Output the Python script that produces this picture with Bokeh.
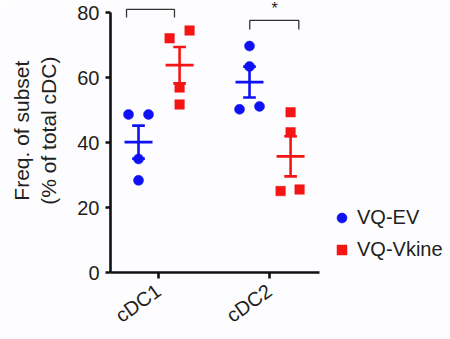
import numpy as np
from bokeh.plotting import figure
from bokeh.models import FixedTicker, Legend, LegendItem, ColumnDataSource, Range1d
from bokeh.core.properties import value
from bokeh.embed import file_html
from bokeh.resources import INLINE

# ---- data ----
categories = ["cDC1", "cDC2"]
cat_pos = [1, 2]
ev_values = [[48.7, 48.7, 35.0, 28.4], [69.8, 63.5, 50.3, 51.2]]   # VQ-EV
vk_values = [[72.2, 74.6, 57.0, 51.8], [49.4, 43.2, 25.1, 25.6]]   # VQ-Vkine
ev_jitter = [[-1, 1, 0, 0], [0, 0, -1, 1]]
vk_jitter = [[-1, 1, 0, 0], [0, 0, -1, 0.9]]
y_ticks = [0, 20, 40, 60, 80]
bracket_x0 = [0.712, 1.822]
bracket_x1 = [1.144, 2.264]
bracket_top = [81.1, 77.7]
bracket_leg = [78.6, 74.9]
sig_labels = ["", "*"]
sig_x = [0.93, 2.045]
sig_y = [81.3, 81.3]

BLUE = "#1010f5"
RED = "#f51515"
TXT = "#231f20"
FONT = "Liberation Sans"
NB = "\u00a0"

X0, X1 = 0.5676, 3.6306
p = figure(width=450, height=339, x_range=Range1d(X0, X1), y_range=Range1d(0, 83.85),
           output_backend="svg", toolbar_location=None,
           min_border_top=0, min_border_right=0, min_border_left=110, min_border_bottom=67)
p.outline_line_color = None
p.xgrid.visible = False
p.ygrid.visible = False
p.background_fill_color = "#fdfdff"
p.border_fill_color = "#fdfdff"

GROUP_OFF = {"ev": -0.18, "vk": 0.19}
JIT = 0.09
MEAN_HW = 0.126
CAP_HW = 0.057

def group(vals, jit, key, color, marker, size):
    xs, ys = [], []
    mx, my0, my1, mm = [], [], [], []
    for pos, v, j in zip(cat_pos, vals, jit):
        c = pos + GROUP_OFF[key]
        xs += [c + JIT * jj for jj in j]
        ys += list(v)
        arr = np.array(v)
        m = arr.mean()
        s = arr.std(ddof=1) / np.sqrt(len(arr))
        mx.append(c); mm.append(m); my0.append(m - s); my1.append(m + s)
    src = ColumnDataSource(dict(x=xs, y=ys))
    r = p.scatter("x", "y", source=src, marker=marker, size=size,
                  fill_color=color, line_color=color, line_width=0.5)
    mx = np.array(mx)
    p.segment(x0=mx, y0=my0, x1=mx, y1=my1, line_color=color, line_width=2.6)
    p.segment(x0=mx - CAP_HW, y0=my0, x1=mx + CAP_HW, y1=my0, line_color=color, line_width=2.6)
    p.segment(x0=mx - CAP_HW, y0=my1, x1=mx + CAP_HW, y1=my1, line_color=color, line_width=2.6)
    p.segment(x0=mx - MEAN_HW, y0=mm, x1=mx + MEAN_HW, y1=mm, line_color=color, line_width=2.8)
    return r

ev_r = group(ev_values, ev_jitter, "ev", BLUE, "circle", 10)
vk_r = group(vk_values, vk_jitter, "vk", RED, "square", 9.5)

# significance brackets
xs = [[a, a, b, b] for a, b in zip(bracket_x0, bracket_x1)]
ys = [[l, t, t, l] for t, l in zip(bracket_top, bracket_leg)]
p.multi_line(xs=xs, ys=ys, line_color="#333333", line_width=1.3)
p.text(x=sig_x, y=sig_y, text=sig_labels, text_align="center", text_baseline="alphabetic",
       text_font=value(FONT), text_font_size="16px", text_color=TXT)

# axes
for ax in (p.xaxis, p.yaxis):
    ax.axis_line_width = 2.6
    ax.axis_line_color = "#111111"
    ax.major_tick_line_width = 2.6
    ax.major_tick_line_color = "#111111"
    ax.major_tick_in = 0
    ax.minor_tick_line_color = None
    ax.major_label_text_font = FONT
    ax.major_label_text_font_size = "20px"
    ax.major_label_text_color = TXT

p.yaxis.bounds = (0, 80)
p.yaxis.ticker = FixedTicker(ticks=y_ticks)
p.yaxis.major_tick_out = 5
p.yaxis.major_label_standoff = 6
p.yaxis.axis_label = NB * 2 + "Freq. of subset\n" + NB * 2 + "(% of total cDC)"
p.yaxis.axis_label_text_font = FONT
p.yaxis.axis_label_text_font_size = "21px"
p.yaxis.axis_label_text_font_style = "normal"
p.yaxis.axis_label_text_color = TXT
p.yaxis.axis_label_standoff = 14

p.xaxis.bounds = (X0, 2.4505)
p.xaxis.ticker = FixedTicker(ticks=cat_pos)
p.xaxis.major_label_overrides = {pos: c for pos, c in zip(cat_pos, categories)}
p.xaxis.major_tick_out = 6
p.xaxis.major_label_orientation = 0.62
p.xaxis.major_label_standoff = 10

legend = Legend(items=[LegendItem(label="VQ-EV", renderers=[ev_r]),
                       LegendItem(label="VQ-Vkine", renderers=[vk_r])],
                location=(219, 9.8), glyph_width=25, glyph_height=25,
                label_standoff=3, spacing=7, padding=0, margin=0,
                border_line_color=None, background_fill_alpha=0,
                label_text_font=FONT, label_text_font_size="20px", label_text_color=TXT)
p.add_layout(legend)

open("out.html", "w").write(file_html(p, INLINE))
